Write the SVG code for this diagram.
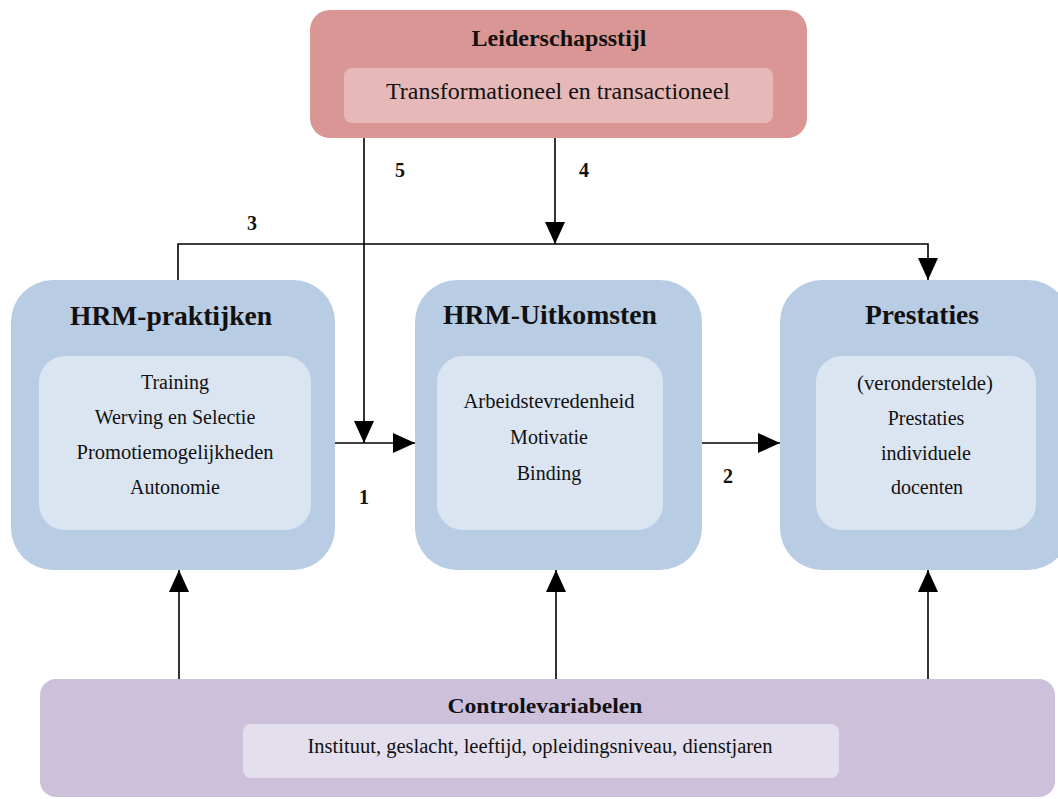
<svg xmlns="http://www.w3.org/2000/svg" width="1058" height="799" viewBox="0 0 1058 799">
<defs>
<style>
.t{font-family:"Liberation Serif","Times New Roman",serif;fill:#111;text-anchor:middle}
.b{font-weight:bold}
.blue{fill:#b8cce4}
.blueIn{fill:#dbe5f1}
.pink{fill:#d99694}
.pinkIn{fill:#e6b9b8}
.purp{fill:#ccc0da}
.purpIn{fill:#e4dfec}
.c{fill:none;stroke:#000;stroke-width:1.6}
</style>
<marker id="ah" markerUnits="userSpaceOnUse" markerWidth="22" markerHeight="20" refX="22" refY="10" orient="auto" viewBox="0 0 22 20">
<path d="M0,0 L22,10 L0,20 z" fill="#000"/>
</marker>
</defs>
<rect width="1058" height="799" fill="#fff"/>

<g id="leiderschapsstijl">
<rect class="pink" x="310" y="10" width="497" height="128" rx="20"/>
<rect class="pinkIn" x="344" y="68" width="429" height="55" rx="8"/>
<text class="t b" x="559" y="46" font-size="24" textLength="175" lengthAdjust="spacingAndGlyphs">Leiderschapsstijl</text>
<text class="t" x="558" y="99" font-size="23" textLength="344" lengthAdjust="spacingAndGlyphs">Transformationeel en transactioneel</text>
</g>

<g id="hrm-praktijken">
<rect class="blue" x="11" y="280" width="324" height="290" rx="42"/>
<rect class="blueIn" x="39" y="356" width="272" height="174" rx="26"/>
<text class="t b" x="171" y="325" font-size="27" textLength="202" lengthAdjust="spacingAndGlyphs">HRM-praktijken</text>
<text class="t" x="175" y="389" font-size="20">Training</text>
<text class="t" x="175" y="424" font-size="20">Werving en Selectie</text>
<text class="t" x="175" y="459" font-size="20" textLength="197" lengthAdjust="spacingAndGlyphs">Promotiemogelijkheden</text>
<text class="t" x="175" y="494" font-size="20">Autonomie</text>
</g>

<g id="hrm-uitkomsten">
<rect class="blue" x="415" y="280" width="287" height="290" rx="42"/>
<rect class="blueIn" x="437" y="356" width="226" height="174" rx="26"/>
<text class="t b" x="550" y="324" font-size="27" textLength="214" lengthAdjust="spacingAndGlyphs">HRM-Uitkomsten</text>
<text class="t" x="549" y="408" font-size="20" textLength="171" lengthAdjust="spacingAndGlyphs">Arbeidstevredenheid</text>
<text class="t" x="549" y="444" font-size="20">Motivatie</text>
<text class="t" x="549" y="480" font-size="20">Binding</text>
</g>

<g id="prestaties">
<rect class="blue" x="780" y="280" width="290" height="290" rx="42"/>
<rect class="blueIn" x="816" y="356" width="220" height="174" rx="26"/>
<text class="t b" x="922" y="324" font-size="27" textLength="114" lengthAdjust="spacingAndGlyphs">Prestaties</text>
<text class="t" x="925" y="390" font-size="20" textLength="136" lengthAdjust="spacingAndGlyphs">(veronderstelde)</text>
<text class="t" x="926" y="425" font-size="20">Prestaties</text>
<text class="t" x="926" y="460" font-size="20">individuele</text>
<text class="t" x="927" y="494" font-size="20">docenten</text>
</g>

<g id="controlevariabelen">
<rect class="purp" x="40" y="679" width="1015" height="118" rx="16"/>
<rect class="purpIn" x="243" y="724" width="596" height="54" rx="8"/>
<text class="t b" x="545" y="713" font-size="21" textLength="195" lengthAdjust="spacingAndGlyphs">Controlevariabelen</text>
<text class="t" x="540" y="753" font-size="20" textLength="465" lengthAdjust="spacingAndGlyphs">Instituut, geslacht, leeftijd, opleidingsniveau, dienstjaren</text>
</g>

<g id="connectors">
<path class="c" d="M178,280 V244 H928 V280" marker-end="url(#ah)"/>
<path class="c" d="M555,138 V244" marker-end="url(#ah)"/>
<path class="c" d="M364,138 V443" marker-end="url(#ah)"/>
<path class="c" d="M335,443 H415" marker-end="url(#ah)"/>
<path class="c" d="M702,443 H780" marker-end="url(#ah)"/>
<path class="c" d="M179,679 V570" marker-end="url(#ah)"/>
<path class="c" d="M556,679 V570" marker-end="url(#ah)"/>
<path class="c" d="M928,679 V570" marker-end="url(#ah)"/>
<text class="t b" x="400" y="177" font-size="20">5</text>
<text class="t b" x="584" y="177" font-size="20">4</text>
<text class="t b" x="252" y="230" font-size="20">3</text>
<text class="t b" x="364" y="504" font-size="20">1</text>
<text class="t b" x="728" y="483" font-size="20">2</text>
</g>
</svg>
